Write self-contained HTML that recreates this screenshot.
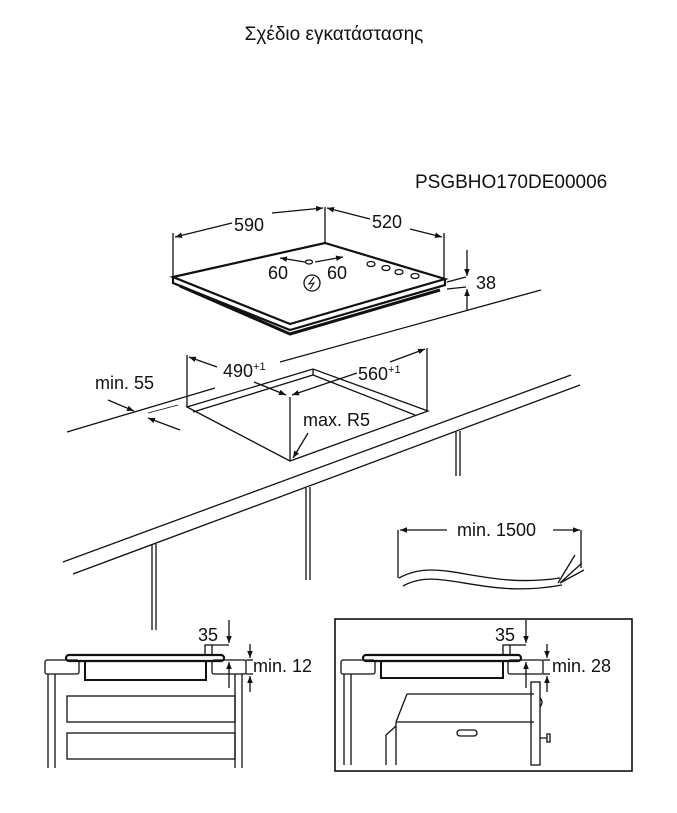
<!DOCTYPE html>
<html><head><meta charset="utf-8"><style>
html,body{margin:0;padding:0;background:#fff}
svg{display:block}
text{font-family:"Liberation Sans",Arial,sans-serif;fill:#111}
</style></head><body>
<svg width="677" height="813" viewBox="0 0 677 813" xmlns="http://www.w3.org/2000/svg">
<defs>
<marker id="a" viewBox="0 0 10 10" refX="10" refY="5" markerWidth="7" markerHeight="7" orient="auto-start-reverse" markerUnits="userSpaceOnUse"><path d="M0,1 L10,5 L0,9 z" fill="#111"/></marker>
</defs>
<text x="334" y="40" font-size="19" text-anchor="middle">Σχέδιο εγκατάστασης</text>
<text x="415" y="188" font-size="19">PSGBHO170DE00006</text>

<g stroke="#111" fill="none" stroke-width="1.3">
<!-- hob -->
<line x1="173" y1="278" x2="173" y2="233"/>
<line x1="325" y1="243" x2="325" y2="207"/>
<line x1="444" y1="278" x2="444" y2="233"/>
<line x1="175" y1="237" x2="232" y2="223" marker-start="url(#a)"/>
<line x1="272" y1="213" x2="323" y2="208" marker-end="url(#a)"/>
<line x1="327" y1="208" x2="370" y2="219" marker-start="url(#a)"/>
<line x1="410" y1="229" x2="442" y2="237" marker-end="url(#a)"/>
<path d="M173,277 L325,243 L445,279 L290,324 Z" fill="#fff" stroke-width="2.2"/>
<path d="M173,277 L173,283 L290,330 L445,285 L445,279" stroke-width="2.2"/>
<path d="M180,286 L290,334 L440,290" stroke-width="3"/>
<line x1="280" y1="258" x2="305" y2="262" marker-start="url(#a)"/>
<line x1="315" y1="262" x2="343" y2="257" marker-end="url(#a)"/>
<ellipse cx="309" cy="262" rx="3.5" ry="2"/>
<circle cx="312" cy="283" r="8"/>
<path d="M314,277 L309,284 L314,283 L310,289" stroke-width="1.1"/>
<ellipse cx="371" cy="264" rx="4" ry="2.5"/><ellipse cx="386" cy="268" rx="4" ry="2.5"/>
<ellipse cx="399" cy="272" rx="4" ry="2.5"/><ellipse cx="415" cy="276" rx="4" ry="2.5"/>
<line x1="447" y1="282" x2="466" y2="277"/><line x1="447" y1="289" x2="466" y2="287"/>
<line x1="467" y1="250" x2="467" y2="276" marker-end="url(#a)"/>
<line x1="467" y1="311" x2="467" y2="289" marker-end="url(#a)"/>

<!-- counter -->
<line x1="67" y1="432" x2="215" y2="388"/>
<line x1="280" y1="362" x2="541" y2="290"/>
<line x1="63" y1="562" x2="571" y2="375"/>
<line x1="73" y1="574" x2="580" y2="385"/>
<line x1="148" y1="413" x2="178" y2="405" stroke-width="0.9"/>
<line x1="108" y1="400" x2="134" y2="411" marker-end="url(#a)"/>
<line x1="180" y1="430" x2="148" y2="418" marker-end="url(#a)"/>
<!-- cutout -->
<path d="M187,407 L313,369 L428,411 L290,461 Z"/>
<path d="M193,412 L313,375 L415,415"/>
<line x1="313" y1="369" x2="313" y2="375"/>
<line x1="187" y1="355" x2="187" y2="407"/>
<line x1="427" y1="348" x2="427" y2="411"/>
<line x1="290" y1="397" x2="290" y2="461"/>
<line x1="189" y1="357" x2="217" y2="367" marker-start="url(#a)"/>
<line x1="254" y1="382" x2="286" y2="395" marker-end="url(#a)"/>
<line x1="292" y1="395" x2="357" y2="373" marker-start="url(#a)"/>
<line x1="390" y1="362" x2="425" y2="349" marker-end="url(#a)"/>
<line x1="308" y1="433" x2="293" y2="458" marker-end="url(#a)"/>
<!-- legs -->
<line x1="152" y1="545" x2="152" y2="630"/><line x1="156" y1="544" x2="156" y2="630"/>
<line x1="306" y1="488" x2="306" y2="580"/><line x1="310" y1="487" x2="310" y2="580"/>
<line x1="456" y1="432" x2="456" y2="476"/><line x1="460" y1="431" x2="460" y2="476"/>
<!-- cable -->
<line x1="398" y1="530" x2="398" y2="578"/><line x1="581" y1="530" x2="581" y2="568"/>
<line x1="400" y1="530" x2="447" y2="530" marker-start="url(#a)"/>
<line x1="553" y1="530" x2="580" y2="530" marker-end="url(#a)"/>
<path d="M399,578 C440,555 480,590 560,578 M403,586 C440,565 480,600 562,585"/>
<path d="M558,583 L575,555 M560,583 L582,563 M560,583 L584,570"/>

<!-- left section -->
<rect x="45" y="660" width="34" height="14" rx="2"/>
<rect x="212" y="660" width="34" height="14" rx="2"/>
<rect x="66" y="655" width="158" height="6" rx="3" stroke-width="2.2"/>
<path d="M85,661 V680 H206 V661" stroke-width="2"/>
<rect x="205" y="645" width="7" height="10"/>
<line x1="48" y1="674" x2="48" y2="768"/><line x1="55" y1="674" x2="55" y2="768"/>
<line x1="235" y1="674" x2="235" y2="768"/><line x1="242" y1="674" x2="242" y2="768"/>
<rect x="67" y="696" width="168" height="26"/>
<rect x="67" y="733" width="168" height="26"/>
<line x1="229" y1="620" x2="229" y2="643" marker-end="url(#a)"/>
<line x1="212" y1="645" x2="229" y2="645"/>
<line x1="229" y1="688" x2="229" y2="662" marker-end="url(#a)"/>
<line x1="250" y1="644" x2="250" y2="658" marker-end="url(#a)"/>
<line x1="250" y1="692" x2="250" y2="676" marker-end="url(#a)"/>
<line x1="246" y1="660" x2="253" y2="660"/><line x1="246" y1="674" x2="253" y2="674"/>

<!-- right section -->
<rect x="335" y="619" width="297" height="152" stroke-width="1.6"/>
<rect x="341" y="660" width="34" height="14" rx="2"/>
<rect x="508" y="660" width="35" height="14" rx="2"/>
<rect x="363" y="655" width="158" height="6" rx="3" stroke-width="2.2"/>
<path d="M381,661 V678 H503 V661" stroke-width="2"/>
<rect x="503" y="645" width="7" height="10"/>
<line x1="344" y1="674" x2="344" y2="765"/><line x1="351" y1="674" x2="351" y2="765"/>
<line x1="407" y1="694" x2="534" y2="694"/>
<line x1="407" y1="694" x2="396" y2="722"/>
<line x1="396" y1="722" x2="534" y2="722"/>
<path d="M396,726 L386,735 V765 M396,722 V765"/>
<rect x="457" y="730" width="20" height="6" rx="3"/>
<rect x="531" y="682" width="9" height="83"/>
<path d="M540,698 Q544,702 540,707"/>
<path d="M540,738 H547 M547,734 h3 v8 h-3 z"/>
<line x1="526" y1="620" x2="526" y2="643" marker-end="url(#a)"/>
<line x1="510" y1="645" x2="526" y2="645"/>
<line x1="526" y1="688" x2="526" y2="662" marker-end="url(#a)"/>
<line x1="547" y1="644" x2="547" y2="658" marker-end="url(#a)"/>
<line x1="547" y1="692" x2="547" y2="676" marker-end="url(#a)"/>
<line x1="543" y1="660" x2="550" y2="660"/><line x1="543" y1="674" x2="550" y2="674"/>
</g>

<g font-size="18">
<text x="234" y="231">590</text>
<text x="372" y="228">520</text>
<text x="268" y="279">60</text>
<text x="327" y="279">60</text>
<text x="476" y="289">38</text>
<text x="223" y="377">490<tspan font-size="11" dy="-7">+1</tspan></text>
<text x="358" y="380">560<tspan font-size="11" dy="-7">+1</tspan></text>
<text x="95" y="389">min. 55</text>
<text x="303" y="426">max. R5</text>
<text x="457" y="536">min. 1500</text>
<text x="198" y="641">35</text>
<text x="253" y="672">min. 12</text>
<text x="495" y="641">35</text>
<text x="552" y="672">min. 28</text>
</g>
</svg>
</body></html>
